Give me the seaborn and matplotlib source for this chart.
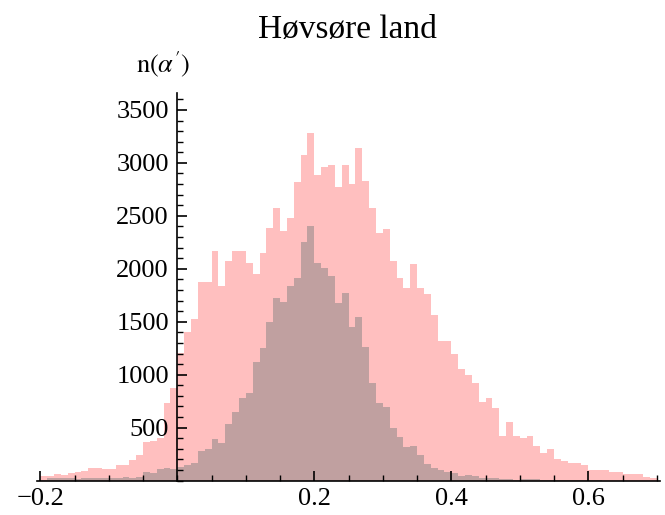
import numpy as np
import pandas as pd
import matplotlib
matplotlib.use("Agg")
import matplotlib.pyplot as plt
from matplotlib.ticker import MultipleLocator, FixedLocator
import seaborn as sns

# ---- data (bin width 0.01, first bin starts at -0.20) ----
bin_start = -0.20
bin_width = 0.01

pink_counts = [
    45, 48, 58, 55, 75, 80, 90, 115, 118, 112,          # -0.20 .. -0.11
    105, 148, 150, 195, 242, 365, 370, 400, 735, 875,   # -0.10 .. -0.01
    1205, 1406, 1525, 1878, 1878, 2167, 1840, 2076, 2167, 2167,  # 0.00 .. 0.09
    2057, 1950, 2151, 2387, 2570, 2356, 2482, 2816, 3074, 3284,  # 0.10 .. 0.19
    2885, 2958, 2979, 2774, 2979, 2797, 3143, 2828, 2570, 2334,  # 0.20 .. 0.29
    2372, 2076, 1910, 1821, 2042, 1815, 1761, 1563, 1321, 1321,  # 0.30 .. 0.39
    1195, 1051, 997, 918, 740, 777, 683, 424, 556, 424,          # 0.40 .. 0.49
    405, 424, 330, 258, 298, 204, 185, 170, 170, 147,            # 0.50 .. 0.59
    100, 100, 100, 78, 78, 59, 59, 59, 37, 22,                   # 0.60 .. 0.69
]

dark_counts = [
    10, 20, 22, 25, 20, 18, 25, 28, 25, 28,             # -0.20 .. -0.11
    22, 25, 30, 28, 35, 80, 75, 110, 115, 105,          # -0.10 .. -0.01
    131, 147, 170, 279, 298, 390, 358, 534, 645, 777,   # 0.00 .. 0.09
    830, 1122, 1249, 1494, 1727, 1689, 1840, 1910, 2255, 2406,   # 0.10 .. 0.19
    2057, 2004, 1934, 1674, 1768, 1453, 1542, 1264, 918, 730,    # 0.20 .. 0.29
    698, 499, 409, 314, 329, 242, 157, 116, 100, 84,             # 0.30 .. 0.39
    75, 43, 50, 43, 25, 22, 20, 18, 15, 10,                      # 0.40 .. 0.49
    12, 18, 18, 10, 5, 4, 3, 2, 2, 1,                            # 0.50 .. 0.59
    1, 1, 0, 0, 0, 0, 0, 0, 0, 0,                                # 0.60 .. 0.69
]

x_tick_values = [-0.2, 0.2, 0.4, 0.6]
x_tick_labels = ["\u22120.2", "0.2", "0.4", "0.6"]
y_tick_values = [500, 1000, 1500, 2000, 2500, 3000, 3500]
y_tick_labels = ["500", "1000", "1500", "2000", "2500", "3000", "3500"]

title_text = "Høvsøre land"

# ---- build table ----
n_bins = len(pink_counts)
centers = bin_start + bin_width * (np.arange(n_bins) + 0.5)
df = pd.DataFrame({"alpha": centers,
                   "pink": np.asarray(pink_counts, dtype=float),
                   "dark": np.asarray(dark_counts, dtype=float)})
brange = (bin_start, bin_start + bin_width * n_bins)

sns.set_style("white")
plt.rcParams["font.family"] = ["Liberation Serif", "DejaVu Serif"]
plt.rcParams["mathtext.fontset"] = "stix"
plt.rcParams["text.color"] = "black"
plt.rcParams["xtick.color"] = "black"
plt.rcParams["ytick.color"] = "black"

fig = plt.figure(figsize=(6.65, 5.15), dpi=100)
ax = fig.add_axes([0.0555, 0.0668, 0.9373, 0.7526])

sns.histplot(data=df, x="alpha", weights="pink", binwidth=bin_width,
             binrange=brange, ax=ax, color="#FFBFBF", alpha=1.0,
             linewidth=0, element="bars")
sns.histplot(data=df, x="alpha", weights="dark", binwidth=bin_width,
             binrange=brange, ax=ax, color="#C0A0A0", alpha=1.0,
             linewidth=0, element="bars")

ax.set_axisbelow(False)
ax.set_xlim(-0.205, 0.705)
ax.set_ylim(0, 3660)

ax.spines["top"].set_visible(False)
ax.spines["right"].set_visible(False)
ax.spines["left"].set_position(("data", 0))
ax.spines["bottom"].set_position(("data", 0))
for s in ("left", "bottom"):
    ax.spines[s].set_color("black")
    ax.spines[s].set_linewidth(1.2)
    ax.spines[s].set_zorder(5)

ax.xaxis.set_major_locator(FixedLocator(x_tick_values))
ax.set_xticklabels(x_tick_labels)
ax.xaxis.set_minor_locator(MultipleLocator(0.05))
ax.yaxis.set_major_locator(FixedLocator(y_tick_values))
ax.set_yticklabels(y_tick_labels)
ax.yaxis.set_minor_locator(MultipleLocator(100))

ax.tick_params(axis="both", which="both", direction="in", color="black",
               labelcolor="black", labelsize=19, bottom=True, left=True,
               top=False, right=False)
ax.tick_params(axis="x", which="major", length=7, width=1.2, pad=5)
ax.tick_params(axis="x", which="minor", length=4, width=1.0)
ax.tick_params(axis="y", which="major", length=7, width=1.2, pad=6)
ax.tick_params(axis="y", which="minor", length=4, width=1.0)
ax.set_xlabel("")
ax.set_ylabel("")
ax.grid(False)

fig.text(0.522, 0.943, title_text, ha="center", va="center", fontsize=24,
         color="black")
fig.text(0.245, 0.875, r"$\mathrm{n}(\alpha')$", ha="center", va="center",
         fontsize=19, color="black")

fig.savefig("out.png", dpi=100)
